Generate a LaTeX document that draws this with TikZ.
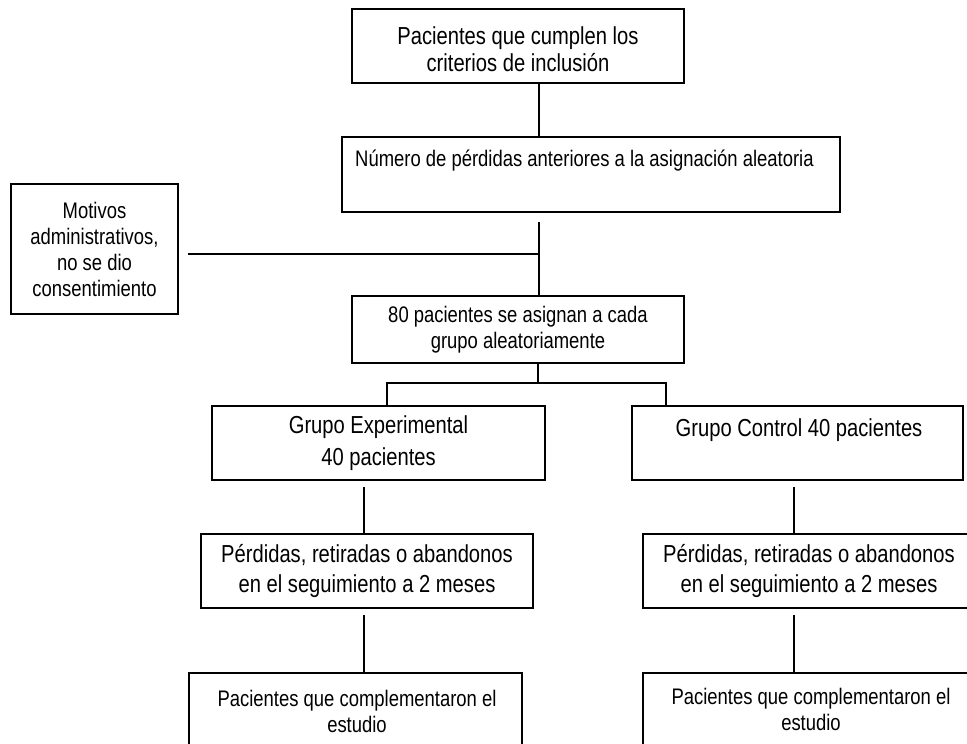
\documentclass[tikz,border=0pt]{standalone}
\usepackage{fontspec}
\setmainfont{Liberation Sans}[FakeStretch=0.82]
\tikzset{
  box/.style={draw, line width=1.2pt, rectangle, inner sep=0pt, align=center},
  ln/.style={line width=1.2pt},
  sm/.style={font=\fontsize{22.5}{26}\selectfont},
  lg/.style={font=\fontsize{24.6}{30}\selectfont},
  lgt/.style={font=\fontsize{24.6}{26.5}\selectfont},
  txt/.style={inner sep=0pt, align=center}
}
\begin{document}
\begin{tikzpicture}[x=1pt,y=-1pt]
\clip (0,0) rectangle (967,744);
% boxes
\node[box, lgt, minimum width=332pt, minimum height=74pt] (b1) at (518,46) {};
\node[txt, lgt] (t1) at (518,49) {Pacientes que cumplen los\\criterios de inclusión};
\node[box, minimum width=498pt, minimum height=75pt] (b2) at (591,174.5) {};
\node[txt, sm, anchor=west] (t2) at (355,161) {Número de pérdidas anteriores a la asignación aleatoria};
\node[box, sm, minimum width=167pt, minimum height=130pt] (mot) at (94.5,249) {Motivos\\administrativos,\\no se dio\\consentimiento};
\node[box, sm, minimum width=332pt, minimum height=67pt] (b3) at (518,329.5) {80 pacientes se asignan a cada\\grupo aleatoriamente};
\node[box, lg, minimum width=333pt, minimum height=74pt] (ge) at (378.5,443) {Grupo Experimental\\[2pt]40 pacientes};
\node[box, minimum width=331pt, minimum height=74pt] (gc) at (797.5,443) {};
\node[txt, lg] (tgc) at (799,430) {Grupo Control 40 pacientes};
\node[box, lg, minimum width=332pt, minimum height=74pt] (pl) at (367,571) {Pérdidas, retiradas o abandonos\\en el seguimiento a 2 meses};
\node[box, lg, minimum width=332pt, minimum height=74pt] (pr) at (809,571) {Pérdidas, retiradas o abandonos\\en el seguimiento a 2 meses};
\node[box, minimum width=333pt, minimum height=80pt] (fl) at (355.5,713) {};
\node[txt, sm] (tfl) at (357,711) {Pacientes que complementaron el\\estudio};
\node[box, minimum width=332pt, minimum height=80pt] (fr) at (809,713) {};
\node[txt, sm] (tfr) at (811,709) {Pacientes que complementaron el\\estudio};
% coordinates
\coordinate (sp) at (539,0);
\coordinate (j1) at (539,222);
\coordinate (j2) at (539,254);
\coordinate (m1) at (188,254);
\coordinate (s0) at (538,383);
\coordinate (sl) at (387,0);
\coordinate (sr) at (666,0);
\coordinate (vl) at (364,0);
\coordinate (vr) at (794,0);
\coordinate (gel) at (364,487);
\coordinate (gcr) at (794,487);
\coordinate (pll) at (364,615);
\coordinate (prr) at (794,615);
% connectors
\draw[ln] (b1.south -| sp) -- (b2.north -| sp);
\draw[ln] (j1) -- (b3.north -| sp);
\draw[ln] (m1) -- (j2);
\draw[ln] (b3.south -| s0) -- (s0);
\draw[ln] (ge.north -| sl) |- (s0) -| (gc.north -| sr);
\draw[ln] (gel) -- (pl.north -| vl);
\draw[ln] (gcr) -- (pr.north -| vr);
\draw[ln] (pll) -- (fl.north -| vl);
\draw[ln] (prr) -- (fr.north -| vr);
\end{tikzpicture}
\end{document}
